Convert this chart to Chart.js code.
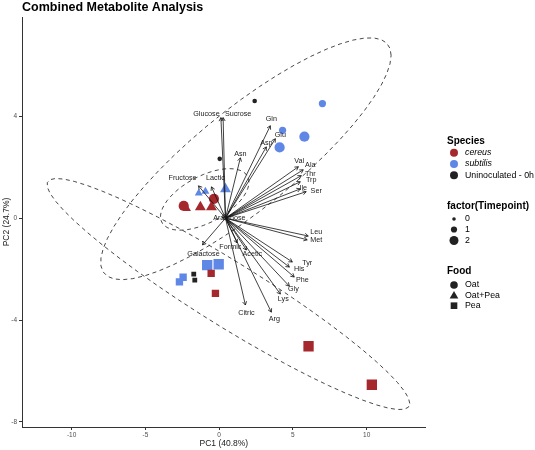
<!DOCTYPE html>
<html><head><meta charset="utf-8">
<script src="https://cdn.jsdelivr.net/npm/chart.js@4.4.1/dist/chart.umd.min.js"></script>
<style>html,body{margin:0;padding:0;background:#fff}canvas{display:block}</style>
</head><body>
<canvas id="c" width="535" height="450"></canvas>
<script>
// ---------------- data ----------------
const chartTitle = 'Combined Metabolite Analysis';
const xAxisTitle = 'PC1 (40.8%)';
const yAxisTitle = 'PC2 (24.7%)';
const xTickValues = [-10, -5, 0, 5, 10];
const yTickValues = [-8, -4, 0, 4];

// sample scores (two small cereus/Oat replicates sit under the larger ones)
const pc1 = [7.0, 4.3, 5.78, 4.1, 2.41, 0.04, -2.4, -0.35, -2.4, -0.35,
             -2.18, -1.27, -0.52, -1.38, -0.93, 0.43,
             -0.81, -0.03, -2.44, -2.69, -1.72, -1.65, -0.54, -0.25, 6.06, 10.35];
const pc2 = [4.5, 3.45, 3.2, 2.78, 4.6, 2.33, 0.48, 0.76, 0.48, 0.76,
             0.37, 0.44, 0.44, 0.98, 1.05, 1.14,
             -1.84, -1.81, -2.32, -2.5, -2.2, -2.43, -2.17, -2.95, -5.03, -6.54];
const sampleSpecies = ['subtilis','subtilis','subtilis','subtilis','Uninoculated - 0h','Uninoculated - 0h','cereus','cereus','cereus','cereus',
             'cereus','cereus','cereus','subtilis','subtilis','subtilis',
             'subtilis','subtilis','subtilis','subtilis','Uninoculated - 0h','Uninoculated - 0h','cereus','cereus','cereus','cereus'];
const sampleFood = ['Oat','Oat','Oat','Oat','Oat','Oat','Oat','Oat','Oat','Oat',
             'Oat+Pea','Oat+Pea','Oat+Pea','Oat+Pea','Oat+Pea','Oat+Pea',
             'Pea','Pea','Pea','Pea','Pea','Pea','Pea','Pea','Pea','Pea'];
const sampleTimepoint = [1,1,2,2,0,0,1,1,2,2,
             1,2,2,1,1,2,
             2,2,1,1,0,0,1,1,2,2];

// variable loadings (arrow tips) and their text positions
const loadingNames = ['Glucose','Sucrose','Gln','Glu','Asp','Asn','Val','Ala','Thr','Trp','Ile','Ser',
  'Fructose','Lactic','Arabinose','Leu','Met','Formic','Acetic','Galactose','Tyr','His','Phe','Gly','Lys','Citric','Arg'];
const loadingX = [0.12, 0.27, 3.47, 3.81, 3.2, 1.44, 5.37, 5.7, 5.57, 5.5, 5.5, 5.9,
  -1.4, -0.52, 0.2, 6.04, 5.97, 1.22, 1.85, -1.13, 4.96, 4.76, 5.09, 4.76, 4.15, 1.78, 3.54];
const loadingY = [3.95, 3.95, 3.63, 3.12, 2.8, 2.37, 2.02, 1.9, 1.67, 1.43, 1.15, 1.04,
  1.27, 1.23, 0.02, -0.70, -0.85, -0.97, -1.25, -1.05, -1.72, -1.92, -2.31, -2.67, -2.98, -3.41, -3.69];
const labelX = [-0.86, 1.29, 3.54, 4.15, 3.2, 1.44, 5.43, 6.18, 6.18, 6.24, 5.7, 6.58,
  -2.48, -0.25, 0.69, 6.58, 6.58, 0.76, 2.25, -1.06, 5.97, 5.43, 5.64, 5.03, 4.35, 1.85, 3.74];
const labelY = [4.09, 4.09, 3.91, 3.28, 2.96, 2.52, 2.23, 2.1, 1.74, 1.51, 1.19, 1.07,
  1.59, 1.59, 0.01, -0.54, -0.85, -1.13, -1.41, -1.41, -1.76, -2.0, -2.43, -2.78, -3.18, -3.73, -3.96];
const arrowOrigin = [0.43, 0];

const speciesLevels = ['cereus','subtilis','Uninoculated - 0h'];
const foodLevels = ['Oat','Oat+Pea','Pea'];
const timepointLevels = [0, 1, 2];

// ---------------- styles ----------------
const FONT = "'Liberation Sans', Arial, sans-serif";
const speciesColor = {'cereus':'#a5282d','subtilis':'#5f87e6','Uninoculated - 0h':'#222222'};
const foodShape = {'Oat':'circle','Oat+Pea':'triangle','Pea':'rect'};
const shapeRadius = {circle:[2.3,3.6,5.1], triangle:[3.2,4.6,6.3], rect:[3.4,5.2,7.3]};

// ---------------- datasets ----------------
const datasets = [];
speciesLevels.forEach(sp => foodLevels.forEach(fd => {
  const idx = pc1.map((_, i) => i).filter(i => sampleSpecies[i] === sp && sampleFood[i] === fd);
  if (!idx.length) return;
  const shape = foodShape[fd];
  datasets.push({
    label: sp + ' / ' + fd,
    data: idx.map(i => ({x: pc1[i], y: pc2[i]})),
    pointStyle: shape,
    pointRadius: idx.map(i => shapeRadius[shape][sampleTimepoint[i]]),
    pointBackgroundColor: speciesColor[sp],
    pointBorderColor: speciesColor[sp],
    pointBorderWidth: 0,
    showLine: false
  });
}));

function fQuantile2(p, d) { return (d / 2) * (Math.pow(1 - p, -2 / d) - 1); }

// 95% normal-theory ellipse (as stat_ellipse type = "norm")
function drawEllipse(ctx, xs, ys, xv, yv) {
  const n = xv.length;
  const mx = xv.reduce((s, v) => s + v, 0) / n, my = yv.reduce((s, v) => s + v, 0) / n;
  let a = 0, b = 0, c = 0;
  for (let i = 0; i < n; i++) { const dx = xv[i] - mx, dy = yv[i] - my; a += dx*dx; b += dx*dy; c += dy*dy; }
  a /= (n - 1); b /= (n - 1); c /= (n - 1);
  const r11 = Math.sqrt(a), r12 = b / r11, r22 = Math.sqrt(Math.max(c - r12*r12, 0));
  const rad = Math.sqrt(2 * fQuantile2(0.95, n - 1));
  ctx.beginPath();
  const seg = 51;
  for (let k = 0; k <= seg; k++) {
    const t = k * 2 * Math.PI / seg;
    const ex = mx + rad * Math.cos(t) * r11;
    const ey = my + rad * (Math.cos(t) * r12 + Math.sin(t) * r22);
    const px = xs.getPixelForValue(ex), py = ys.getPixelForValue(ey);
    if (k === 0) ctx.moveTo(px, py); else ctx.lineTo(px, py);
  }
  ctx.stroke();
}

function drawShape(ctx, shape, cx, cy, r, color) {
  ctx.fillStyle = color;
  ctx.beginPath();
  if (shape === 'circle') ctx.arc(cx, cy, r, 0, Math.PI * 2);
  else if (shape === 'triangle') {
    ctx.moveTo(cx, cy - r);
    ctx.lineTo(cx + r * Math.sin(2 * Math.PI / 3), cy - r * Math.cos(2 * Math.PI / 3));
    ctx.lineTo(cx + r * Math.sin(4 * Math.PI / 3), cy - r * Math.cos(4 * Math.PI / 3));
    ctx.closePath();
  } else {
    const s = r * Math.SQRT1_2;
    ctx.rect(cx - s, cy - s, 2 * s, 2 * s);
  }
  ctx.fill();
}

const overlay = {
  id: 'overlay',
  afterDatasetsDraw(chart) {
    const ctx = chart.ctx, xs = chart.scales.x, ys = chart.scales.y;
    ctx.save();
    ctx.strokeStyle = '#1a1a1a';
    ctx.lineWidth = 0.8;
    ctx.setLineDash([4, 3.5]);
    foodLevels.forEach(fd => {
      const idx = pc1.map((_, i) => i).filter(i => sampleFood[i] === fd);
      drawEllipse(ctx, xs, ys, idx.map(i => pc1[i]), idx.map(i => pc2[i]));
    });
    ctx.setLineDash([]);
    // arrows
    const ox = xs.getPixelForValue(arrowOrigin[0]), oy = ys.getPixelForValue(arrowOrigin[1]);
    ctx.strokeStyle = '#111';
    ctx.lineWidth = 0.8;
    loadingNames.forEach((nm, i) => {
      const tx = xs.getPixelForValue(loadingX[i]), ty = ys.getPixelForValue(loadingY[i]);
      ctx.beginPath(); ctx.moveTo(ox, oy); ctx.lineTo(tx, ty); ctx.stroke();
      const ang = Math.atan2(ty - oy, tx - ox), L = 4, h = Math.PI / 6;
      ctx.beginPath();
      ctx.moveTo(tx - L * Math.cos(ang - h), ty - L * Math.sin(ang - h));
      ctx.lineTo(tx, ty);
      ctx.lineTo(tx - L * Math.cos(ang + h), ty - L * Math.sin(ang + h));
      ctx.stroke();
    });
    ctx.fillStyle = '#1a1a1a';
    ctx.font = '7.2px ' + FONT;
    ctx.textAlign = 'center'; ctx.textBaseline = 'middle';
    loadingNames.forEach((nm, i) => {
      ctx.fillText(nm, xs.getPixelForValue(labelX[i]), ys.getPixelForValue(labelY[i]));
    });
    ctx.restore();
  },
  afterDraw(chart) {
    const ctx = chart.ctx;
    ctx.save();
    ctx.fillStyle = '#000';
    ctx.font = 'bold 12.5px ' + FONT;
    ctx.textAlign = 'left'; ctx.textBaseline = 'alphabetic';
    ctx.fillText(chartTitle, 22, 10.5);
    const keyX = 454, textX = 465, titleX = 447;
    ctx.font = 'bold 10px ' + FONT;
    ctx.fillText('Species', titleX, 143.5);
    ctx.fillText('factor(Timepoint)', titleX, 208.5);
    ctx.fillText('Food', titleX, 274);
    ctx.textBaseline = 'middle';
    const spY = [152.7, 164, 175.3];
    speciesLevels.forEach((sp, k) => {
      drawShape(ctx, 'circle', keyX, spY[k], 4, speciesColor[sp]);
      ctx.fillStyle = '#000';
      ctx.font = (sp === 'Uninoculated - 0h' ? '' : 'italic ') + '8.8px ' + FONT;
      ctx.fillText(sp, textX, spY[k]);
    });
    const tpY = [219, 229.5, 240.5], tpR = [1.8, 3.1, 4.5];
    timepointLevels.forEach((tp, k) => {
      drawShape(ctx, 'circle', keyX, tpY[k], tpR[k], '#222');
      ctx.fillStyle = '#000';
      ctx.font = '8.8px ' + FONT;
      ctx.fillText(String(tp), textX, tpY[k]);
    });
    const fdY = [285, 295.3, 305.7], fdR = {circle: 3.8, triangle: 5, rect: 4.7};
    foodLevels.forEach((fd, k) => {
      const sh = foodShape[fd];
      drawShape(ctx, sh, keyX, fdY[k] + (sh === 'triangle' ? 0.8 : 0), fdR[sh], '#222');
      ctx.fillStyle = '#000';
      ctx.font = '8.8px ' + FONT;
      ctx.fillText(fd, textX, fdY[k]);
    });
    ctx.restore();
  }
};

Chart.defaults.font.family = FONT;
new Chart(document.getElementById('c'), {
  type: 'scatter',
  data: { datasets },
  options: {
    responsive: false,
    animation: false,
    events: [],
    layout: { padding: { left: 0, right: 109.3, top: 17, bottom: 0 } },
    plugins: { legend: { display: false }, tooltip: { enabled: false }, title: { display: false } },
    scales: {
      x: {
        type: 'linear', min: -13.36, max: 14.0,
        afterBuildTicks: s => { s.ticks = xTickValues.map(v => ({ value: v })); },
        afterFit: s => { s.height = 23; },
        grid: { display: true, drawOnChartArea: false, drawTicks: true, tickLength: 3, color: '#333' },
        border: { display: true, color: '#333', width: 1 },
        ticks: { font: { size: 6.5 }, color: '#4d4d4d', padding: 1, maxRotation: 0 },
        title: { display: true, text: xAxisTitle, font: { size: 8.5 }, color: '#1a1a1a', padding: { top: 0, bottom: 1 } }
      },
      y: {
        type: 'linear', min: -8.2, max: 7.9,
        afterBuildTicks: s => { s.ticks = yTickValues.map(v => ({ value: v })); },
        afterFit: s => { s.width = 22; },
        grid: { display: true, drawOnChartArea: false, drawTicks: true, tickLength: 3, color: '#333' },
        border: { display: true, color: '#333', width: 1 },
        ticks: { font: { size: 6.5 }, color: '#4d4d4d', padding: 2 },
        title: { display: true, text: yAxisTitle, font: { size: 8.5 }, color: '#1a1a1a', padding: { top: 1.5, bottom: 0 } }
      }
    }
  },
  plugins: [overlay]
});
</script>
</body></html>
